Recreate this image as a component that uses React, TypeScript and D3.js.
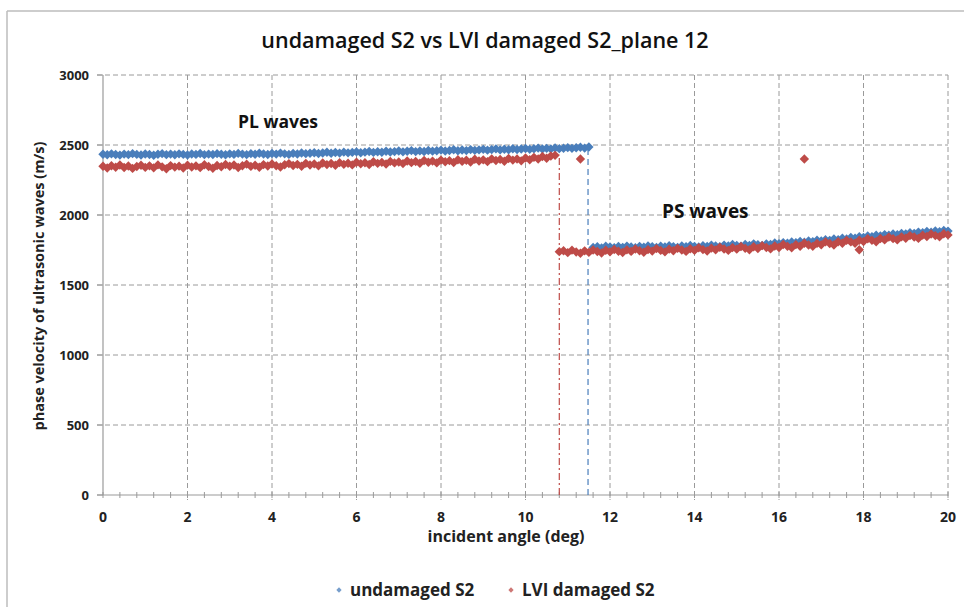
import React from "react";
import * as d3 from "d3";

const title = "undamaged S2 vs LVI damaged S2_plane 12";
const xTicks = [0, 2, 4, 6, 8, 10, 12, 14, 16, 18, 20];
const yTicks = [0, 500, 1000, 1500, 2000, 2500, 3000];

// undamaged S2, PL branch: angles 0.0 .. 11.5 step 0.1
const bluePLStart = 0.0;
const bluePL = [
  2434, 2430, 2437, 2432, 2428, 2435, 2431, 2438, 2433, 2429,
  2436, 2432, 2427, 2434, 2438, 2431, 2435, 2430, 2437, 2433,
  2429, 2436, 2433, 2439, 2431, 2435, 2432, 2438, 2434, 2430,
  2437, 2433, 2440, 2435, 2431, 2438, 2434, 2441, 2436, 2432,
  2439, 2435, 2442, 2437, 2433, 2440, 2436, 2443, 2438, 2441,
  2445, 2439, 2443, 2448, 2441, 2446, 2442, 2449, 2444, 2447,
  2451, 2445, 2449, 2454, 2447, 2452, 2448, 2455, 2450, 2453,
  2457, 2451, 2455, 2460, 2453, 2458, 2454, 2461, 2456, 2459,
  2463, 2457, 2461, 2466, 2459, 2464, 2460, 2467, 2462, 2465,
  2469, 2463, 2467, 2472, 2465, 2470, 2466, 2473, 2468, 2471,
  2475, 2469, 2473, 2478, 2471, 2476, 2472, 2479, 2474, 2477,
  2481, 2476, 2480, 2484, 2478, 2486,
];
// undamaged S2, PS branch: angles 11.6 .. 20.0 step 0.1
const bluePSStart = 11.6;
const bluePS = [
  1768, 1774, 1765, 1777, 1771, 1767, 1775, 1769, 1778, 1772,
  1766, 1776, 1770, 1779, 1773, 1768, 1777, 1771, 1780, 1774,
  1769, 1779, 1773, 1782, 1776, 1771, 1781, 1775, 1785, 1779,
  1774, 1785, 1779, 1789, 1783, 1778, 1789, 1783, 1794, 1788,
  1783, 1794, 1789, 1800, 1795, 1803, 1798, 1808, 1803, 1811,
  1806, 1815, 1810, 1820, 1815, 1824, 1819, 1829, 1824, 1834,
  1829, 1839, 1834, 1845, 1840, 1850, 1845, 1855, 1850, 1860,
  1855, 1864, 1859, 1869, 1864, 1874, 1869, 1878, 1873, 1882,
  1877, 1886, 1881, 1890, 1885,
];
// LVI damaged S2, PL branch: angles 0.0 .. 10.7 step 0.1
const redPLStart = 0.0;
const redPL = [
  2348, 2336, 2352, 2341, 2357, 2339, 2350, 2333, 2346, 2355,
  2340, 2351, 2337, 2358, 2344, 2330, 2353, 2342, 2349, 2336,
  2356, 2343, 2351, 2338, 2359, 2346, 2334, 2354, 2345, 2361,
  2348, 2357, 2339, 2352, 2363, 2347, 2355, 2341, 2360, 2350,
  2364, 2352, 2343, 2359, 2367, 2354, 2362, 2348, 2369, 2357,
  2365, 2351, 2371, 2360, 2368, 2355, 2374, 2362, 2370, 2358,
  2377, 2366, 2373, 2361, 2380, 2369, 2376, 2364, 2383, 2372,
  2379, 2367, 2386, 2374, 2382, 2370, 2389, 2377, 2385, 2372,
  2392, 2380, 2388, 2375, 2395, 2383, 2391, 2378, 2398, 2386,
  2394, 2381, 2401, 2389, 2397, 2384, 2404, 2392, 2400, 2387,
  2407, 2395, 2412, 2400, 2418, 2405, 2421, 2426,
];
// LVI damaged S2, PS branch: angles 10.8 .. 20.0 step 0.1
const redPSStart = 10.8;
const redPS = [
  1738, 1745, 1731, 1749, 1736, 1727, 1744, 1733, 1750, 1739,
  1729, 1748, 1737, 1754, 1741, 1732, 1751, 1740, 1757, 1745,
  1734, 1753, 1742, 1760, 1747, 1737, 1756, 1745, 1762, 1750,
  1740, 1759, 1747, 1766, 1753, 1743, 1763, 1751, 1770, 1757,
  1747, 1767, 1756, 1775, 1762, 1752, 1773, 1761, 1781, 1768,
  1758, 1779, 1768, 1789, 1776, 1766, 1788, 1777, 1798, 1786,
  1776, 1797, 1787, 1808, 1796, 1786, 1809, 1798, 1819, 1808,
  1798, 1820, 1810, 1830, 1819, 1809, 1832, 1822, 1842, 1831,
  1822, 1844, 1834, 1853, 1843, 1833, 1856, 1846, 1864, 1853,
  1845, 1866, 1858,
];
const redOutlierX = [11.3, 16.6, 17.9];
const redOutlierY = [2400, 2400, 1752];

// transition markers (dashed verticals)
const redJump = { x: 10.8, top: 2430 };
const blueJump = { x: 11.48, top: 2492 };

const BLUE = "#4a7ebb";
const RED = "#be4b48";
const FONT = "'Open Sans', 'Noto Sans', sans-serif";

function toPoints(start: number, ys: number[]) {
  return ys.map((y, i) => ({ x: +(start + i * 0.1).toFixed(2), y }));
}

export default function App() {
  const W = 964, H = 607;
  const x = d3.scaleLinear().domain([0, 20]).range([103, 948]);
  const y = d3.scaleLinear().domain([0, 3000]).range([495, 75]);

  const blue = [...toPoints(bluePLStart, bluePL), ...toPoints(bluePSStart, bluePS)];
  const red = [
    ...toPoints(redPLStart, redPL),
    ...toPoints(redPSStart, redPS),
    ...redOutlierX.map((v, i) => ({ x: v, y: redOutlierY[i] })),
  ];
  const diamond = d3.symbol().type(d3.symbolSquare).size(44)() as string;
  const legendDiamond = d3.symbol().type(d3.symbolSquare).size(14)() as string;
  const minor = d3.range(0, 20.001, 0.4);

  return (
    <svg width={W} height={H} style={{ position: "absolute", left: 0, top: 0, background: "#fff" }}>
      <rect x={0} y={0} width={W} height={H} fill="#fff" />
      <line x1={7} y1={11} x2={W} y2={11} stroke="#bdbdbd" strokeWidth={1.5} />
      <line x1={7} y1={11} x2={7} y2={H} stroke="#bdbdbd" strokeWidth={1.5} />

      <text x={485} y={48} textAnchor="middle" fontFamily={FONT} fontWeight={600} fontSize={21.5} fill="#111">
        {title}
      </text>

      {/* gridlines */}
      {yTicks.filter((t) => t > 0).map((t) => (
        <line key={"gy" + t} x1={x(0) - 6} x2={x(20)} y1={y(t)} y2={y(t)} stroke="#9a9a9a" strokeDasharray="5,3" strokeWidth={1} />
      ))}
      {xTicks.filter((t) => t > 0).map((t) => (
        <line key={"gx" + t} x1={x(t)} x2={x(t)} y1={y(3000)} y2={y(0) + 5} stroke="#9a9a9a" strokeDasharray="5,3" strokeWidth={1} />
      ))}
      {/* axes */}
      <line x1={x(0)} x2={x(0)} y1={y(3000)} y2={y(0)} stroke="#9a9a9a" strokeWidth={1.2} />
      <line x1={x(0) - 6} x2={x(20)} y1={y(0)} y2={y(0)} stroke="#9a9a9a" strokeWidth={1.2} />
      {minor.map((t, i) => (
        <line key={"mt" + i} x1={x(t)} x2={x(t)} y1={y(0) - 3} y2={y(0) + 3} stroke="#9a9a9a" strokeWidth={1} />
      ))}
      {yTicks.map((t) => (
        <line key={"yt" + t} x1={x(0) - 6} x2={x(0)} y1={y(t)} y2={y(t)} stroke="#9a9a9a" strokeWidth={1} />
      ))}

      {/* tick labels */}
      {yTicks.map((t) => (
        <text key={"yl" + t} x={89} y={y(t) + 5} textAnchor="end" fontFamily={FONT} fontWeight={700} fontSize={13} fill="#222">
          {t}
        </text>
      ))}
      {xTicks.map((t) => (
        <text key={"xl" + t} x={x(t)} y={522} textAnchor="middle" fontFamily={FONT} fontWeight={700} fontSize={14} fill="#222">
          {t}
        </text>
      ))}

      <text x={506} y={542} textAnchor="middle" fontFamily={FONT} fontWeight={700} fontSize={16} fill="#222">
        incident angle (deg)
      </text>
      <text transform="translate(44,286) rotate(-90)" textAnchor="middle" fontFamily={FONT} fontWeight={700} fontSize={14.5} fill="#222">
        phase velocity of ultrasonic waves (m/s)
      </text>

      {/* transition dashed lines */}
      <line x1={x(redJump.x)} x2={x(redJump.x)} y1={y(0)} y2={y(redJump.top)} stroke={RED} strokeDasharray="7,3,2,3" strokeWidth={1.2} />
      <line x1={x(blueJump.x)} x2={x(blueJump.x)} y1={y(0)} y2={y(blueJump.top)} stroke={BLUE} strokeDasharray="6,4" strokeWidth={1.2} />

      {/* markers */}
      {blue.map((p, i) => (
        <path key={"b" + i} d={diamond} transform={`translate(${x(p.x)},${y(p.y)}) rotate(45)`} fill={BLUE} />
      ))}
      {red.map((p, i) => (
        <path key={"r" + i} d={diamond} transform={`translate(${x(p.x)},${y(p.y)}) rotate(45)`} fill={RED} />
      ))}

      <text x={238} y={128} fontFamily={FONT} fontWeight={700} fontSize={17.5} fill="#111">PL waves</text>
      <text x={662} y={218} fontFamily={FONT} fontWeight={700} fontSize={19} fill="#111">PS waves</text>

      {/* legend */}
      <path d={legendDiamond} transform="translate(339,590) rotate(45)" fill={BLUE} opacity={0.75} />
      <text x={350} y={596} fontFamily={FONT} fontWeight={700} fontSize={17} fill="#222">undamaged S2</text>
      <path d={legendDiamond} transform="translate(511,590) rotate(45)" fill={RED} opacity={0.75} />
      <text x={522} y={596} fontFamily={FONT} fontWeight={700} fontSize={17} fill="#222">LVI damaged S2</text>
    </svg>
  );
}
